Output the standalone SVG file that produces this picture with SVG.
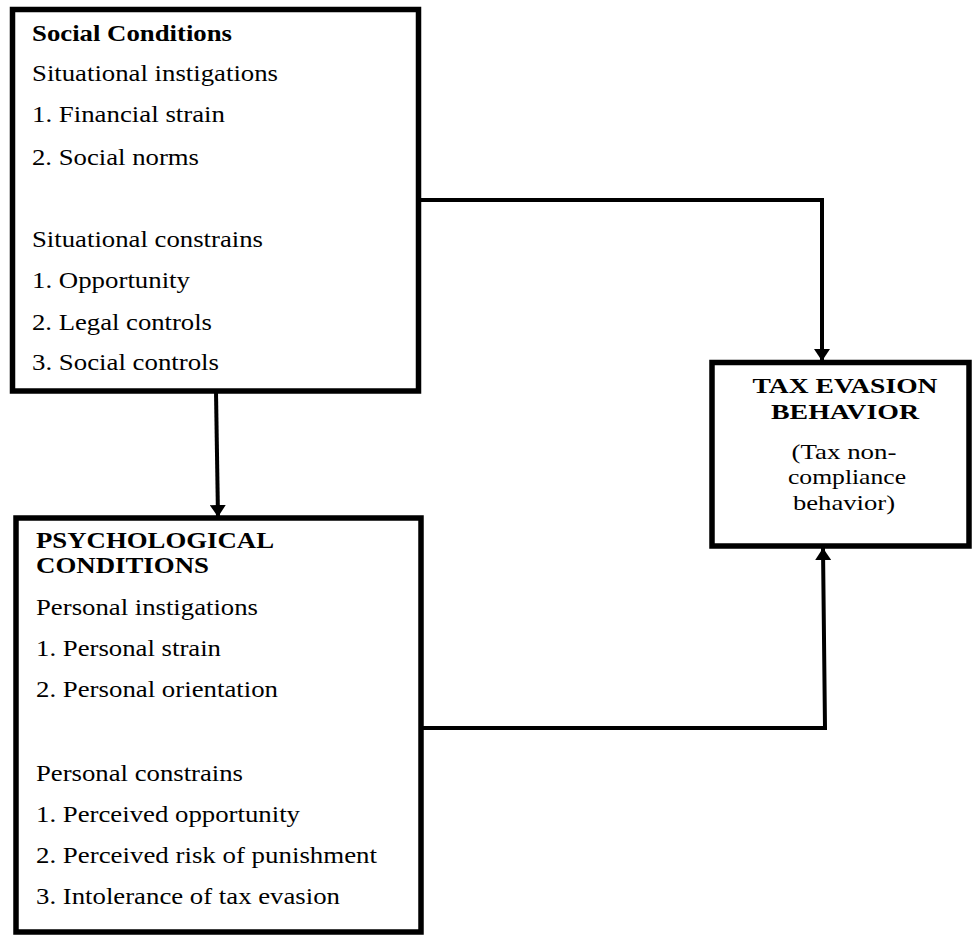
<svg xmlns="http://www.w3.org/2000/svg" width="972" height="935" viewBox="0 0 972 935">
  <style>
    .box { fill: #ffffff; stroke: #000000; stroke-width: 5.5; }
    .txt { font-family: 'Liberation Serif', 'Times New Roman', serif; font-size: 23.5px; fill: #000000; }
    .bold { font-weight: bold; }
    .mid { text-anchor: middle; }
    .small { font-size: 21px; }
    .head { font-size: 22px; }
    .link { fill: none; stroke: #000000; stroke-width: 4; stroke-linejoin: miter; }
  </style>
  <defs>
    <marker id="arrow" viewBox="0 0 12 16" refX="12" refY="8" markerWidth="12" markerHeight="16" markerUnits="userSpaceOnUse" orient="auto">
      <path d="M0,0 L12,8 L0,16 Z" fill="#000000"/>
    </marker>
  </defs>
  <rect x="0" y="0" width="972" height="935" fill="#ffffff"/>

  <!-- connectors -->
  <g id="connectors">
    <path class="link" d="M421,200 L822,200 L822,361" marker-end="url(#arrow)"/>
    <path class="link" d="M216,392 L218,517" marker-end="url(#arrow)"/>
    <path class="link" d="M421,728 L825,728 L823,548" marker-end="url(#arrow)"/>
  </g>

  <!-- social conditions -->
  <g id="social-conditions">
    <rect class="box" x="12.5" y="9.5" width="406" height="381.5"/>
    <text class="txt bold" x="32" y="41" textLength="200" lengthAdjust="spacingAndGlyphs">Social Conditions</text>
    <text class="txt" x="32" y="81" textLength="246" lengthAdjust="spacingAndGlyphs">Situational instigations</text>
    <text class="txt" x="32" y="122" textLength="193" lengthAdjust="spacingAndGlyphs">1. Financial strain</text>
    <text class="txt" x="32" y="165" textLength="167" lengthAdjust="spacingAndGlyphs">2. Social norms</text>
    <text class="txt" x="32" y="247" textLength="231" lengthAdjust="spacingAndGlyphs">Situational constrains</text>
    <text class="txt" x="32" y="288" textLength="158" lengthAdjust="spacingAndGlyphs">1. Opportunity</text>
    <text class="txt" x="32" y="330" textLength="180" lengthAdjust="spacingAndGlyphs">2. Legal controls</text>
    <text class="txt" x="32" y="370" textLength="187" lengthAdjust="spacingAndGlyphs">3. Social controls</text>
  </g>

  <!-- psychological conditions -->
  <g id="psychological-conditions">
    <rect class="box" x="16" y="518" width="405" height="414"/>
    <text class="txt bold" x="36" y="548" textLength="238" lengthAdjust="spacingAndGlyphs">PSYCHOLOGICAL</text>
    <text class="txt bold" x="36" y="573" textLength="173" lengthAdjust="spacingAndGlyphs">CONDITIONS</text>
    <text class="txt" x="36" y="615" textLength="222" lengthAdjust="spacingAndGlyphs">Personal instigations</text>
    <text class="txt" x="36" y="656" textLength="185" lengthAdjust="spacingAndGlyphs">1. Personal strain</text>
    <text class="txt" x="36" y="697" textLength="242" lengthAdjust="spacingAndGlyphs">2. Personal orientation</text>
    <text class="txt" x="36" y="781" textLength="207" lengthAdjust="spacingAndGlyphs">Personal constrains</text>
    <text class="txt" x="36" y="822" textLength="264" lengthAdjust="spacingAndGlyphs">1. Perceived opportunity</text>
    <text class="txt" x="36" y="863" textLength="341" lengthAdjust="spacingAndGlyphs">2. Perceived risk of punishment</text>
    <text class="txt" x="36" y="904" textLength="304" lengthAdjust="spacingAndGlyphs">3. Intolerance of tax evasion</text>
  </g>

  <!-- tax evasion behavior -->
  <g id="tax-evasion-behavior">
    <rect class="box" x="712" y="362.5" width="257" height="183.5"/>
    <text class="txt bold mid head" x="845" y="393" textLength="185" lengthAdjust="spacingAndGlyphs">TAX EVASION</text>
    <text class="txt bold mid head" x="845" y="419" textLength="148" lengthAdjust="spacingAndGlyphs">BEHAVIOR</text>
    <text class="txt mid small" x="844" y="459" textLength="105" lengthAdjust="spacingAndGlyphs">(Tax non-</text>
    <text class="txt mid small" x="847" y="484" textLength="118" lengthAdjust="spacingAndGlyphs">compliance</text>
    <text class="txt mid small" x="844" y="510" textLength="102" lengthAdjust="spacingAndGlyphs">behavior)</text>
  </g>
</svg>
